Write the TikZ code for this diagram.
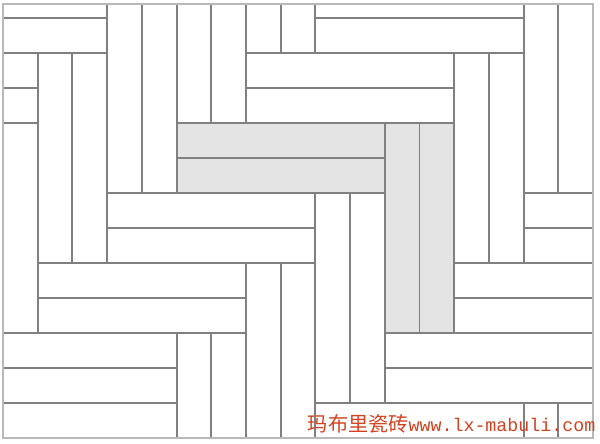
\documentclass[tikz,border=0pt]{standalone}
\usepackage{fontspec}
\newfontfamily\cjk{Noto Sans CJK SC}
\newfontfamily\lxmono{Liberation Mono}

\definecolor{brick}{RGB}{212,66,32}
\definecolor{tileline}{RGB}{128,128,128}
\definecolor{tilegray}{RGB}{228,228,228}

\begin{document}
\begin{tikzpicture}[x=1cm, y=-1.0084cm,
    plank/.style={draw=tileline, line width=1.6pt, fill=white},
    shaded/.style={plank, fill=tilegray}]
    \useasboundingbox (-0.0865,-0.514) rectangle (17.2,12.143);

    \begin{scope}
    \clip (0,-0.4) rectangle (17,12);
    % flat pairs
    \foreach \x/\y in {-3/-1, 9/-1, 7/1, -5/1, 3/5, 15/5, 1/7, 13/7, -1/9, 11/9, 9/11}
        \foreach \k in {0,1}
            \draw[plank] (\x,\y+\k) rectangle ++(6,1);
    % upright pairs
    \foreach \x/\y in {15/-1, 13/1, 9/5, 7/7, 5/9, 7/-5, 5/-3, 3/-1, 1/1, -1/3, 15/11}
        \foreach \k in {0,1}
            \draw[plank] (\x+\k,\y) rectangle ++(1,6);
    % bottom-left row
    \draw[plank] (0,11) rectangle (5,12);
    % the grey L
    \foreach \k in {0,1} {
        \draw[shaded] (5,3+\k) rectangle ++(6,1);
        \draw[shaded] (11+\k,3) rectangle ++(1,6);
    }
    \end{scope}
    \draw[gray!55, line width=1pt] (0,-0.4) rectangle (17,12);

    \node[anchor=west, inner sep=0pt, text=brick] (watermark) at (8.78,11.6)
        {\cjk\fontsize{16.5pt}{18pt}\selectfont 玛布里瓷砖\lxmono\fontsize{15pt}{18pt}\selectfont www.lx-mabuli.com};
\end{tikzpicture}
\end{document}
